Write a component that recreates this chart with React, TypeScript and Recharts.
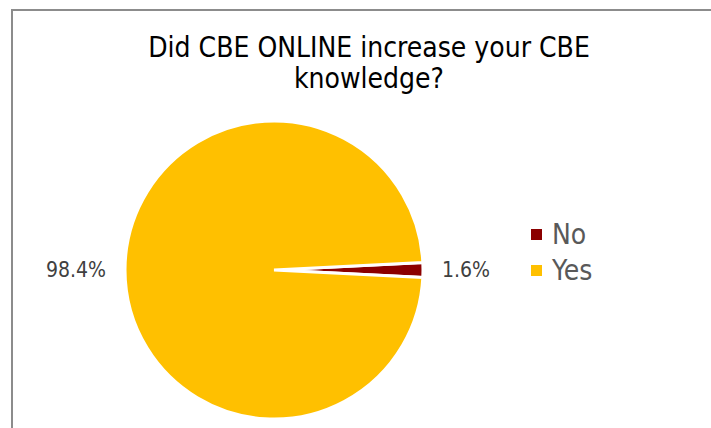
import React from "react";
import { PieChart, Pie, Cell, Legend } from "recharts";

const categories = ["No", "Yes"];
const values = [1.6, 98.4];
const labels = ["1.6%", "98.4%"];
const colors = ["#8B0000", "#FFC000"];

const data = categories.map((name, i) => ({ name, value: values[i], label: labels[i] }));

const RADIAN = Math.PI / 180;
const FONT = "'DejaVu Sans Condensed', 'DejaVu Sans', sans-serif";

const renderLabel = (props: any) => {
  const { cx, cy, midAngle, outerRadius, index } = props;
  const r = outerRadius + 19;
  const x = cx + r * Math.cos(-midAngle * RADIAN);
  const y = cy + r * Math.sin(-midAngle * RADIAN);
  return (
    <text
      x={x}
      y={y}
      fill="#404040"
      textAnchor={x > cx ? "start" : "end"}
      dominantBaseline="central"
      style={{ fontFamily: FONT, fontSize: 21, fontStretch: "condensed" }}
    >
      {data[index].label}
    </text>
  );
};

const renderLegend = () => (
  <div style={{ fontFamily: FONT, fontStretch: "condensed" }}>
    {data.map((d, i) => (
      <div key={d.name} style={{ display: "flex", alignItems: "center", height: 36 }}>
        <div style={{ width: 11, height: 11, background: colors[i], marginRight: 10 }} />
        <span style={{ fontSize: 28, color: "#595959" }}>{d.name}</span>
      </div>
    ))}
  </div>
);

export default function App() {
  return (
    <div style={{ position: "absolute", left: 0, top: 0, width: 711, height: 428, background: "#fff", overflow: "hidden" }}>
      <div
        style={{
          position: "absolute",
          left: 11,
          top: 9,
          width: 740,
          height: 460,
          borderLeft: "2px solid #8c8c8c",
          borderTop: "2px solid #8c8c8c",
        }}
      />
      <div
        style={{
          position: "absolute",
          left: 69,
          top: 32,
          width: 600,
          textAlign: "center",
          fontFamily: FONT,
          fontStretch: "condensed",
          fontSize: 28,
          lineHeight: "31px",
          color: "#000",
        }}
      >
        Did CBE ONLINE increase your CBE
        <br />
        knowledge?
      </div>
      <div style={{ position: "absolute", left: 0, top: 0 }}>
        <PieChart width={711} height={428} margin={{ top: 0, right: 0, bottom: 0, left: 0 }}>
          <Pie
            data={data}
            dataKey="value"
            nameKey="name"
            cx={274}
            cy={270}
            outerRadius={149}
            startAngle={2.88}
            endAngle={-357.12}
            stroke="#ffffff"
            strokeWidth={3}
            label={renderLabel}
            labelLine={false}
            isAnimationActive={false}
          >
            {data.map((d, i) => (
              <Cell key={d.name} fill={colors[i]} />
            ))}
          </Pie>
          <Legend
            layout="vertical"
            content={renderLegend}
            wrapperStyle={{ position: "absolute", left: 531, top: 216, width: 120 }}
          />
        </PieChart>
      </div>
    </div>
  );
}
